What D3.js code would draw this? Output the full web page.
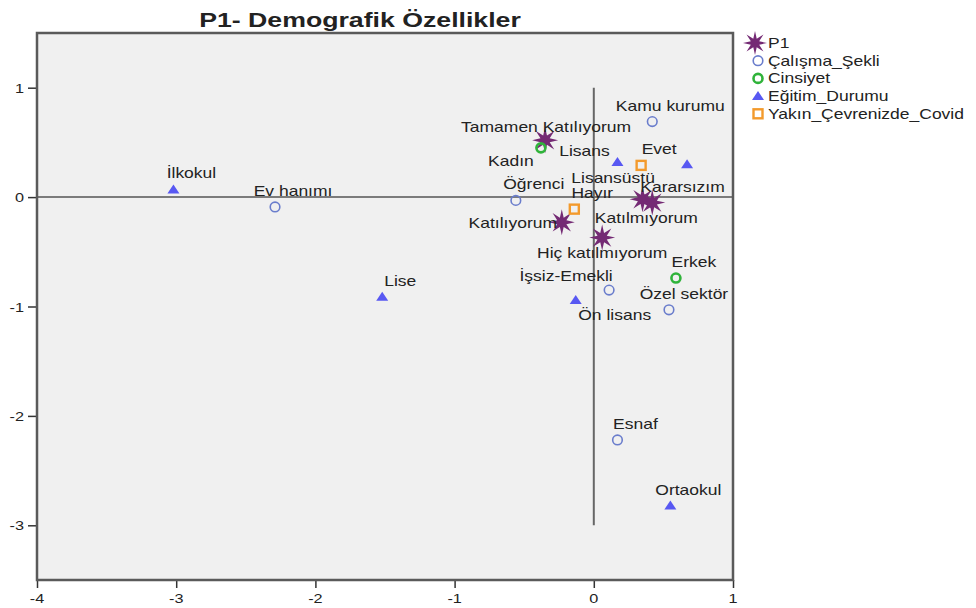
<!DOCTYPE html>
<html>
<head>
<meta charset="utf-8">
<script src="https://cdn.jsdelivr.net/npm/d3@7"></script>
<style>
  body { margin: 0; background: #fff; }
  text { font-family: "Liberation Sans", Arial, sans-serif; }
</style>
</head>
<body>
<div id="chart"></div>
<script>
// category points (dimension 1, dimension 2)
let p1_points = [
    { name: "Tamamen Katılıyorum", x: -0.35, y: 0.52 },
    { name: "Kararsızım", x: 0.35, y: -0.02 },
    { name: "Katılmıyorum", x: 0.42, y: -0.05 },
    { name: "Katılıyorum", x: -0.23, y: -0.23 },
    { name: "Hiç katılmıyorum", x: 0.06, y: -0.37 }
];
let calisma_points = [
    { name: "Kamu kurumu", x: 0.42, y: 0.69 },
    { name: "Öğrenci", x: -0.56, y: -0.03 },
    { name: "Ev hanımı", x: -2.29, y: -0.09 },
    { name: "İşsiz-Emekli", x: 0.11, y: -0.85 },
    { name: "Özel sektör", x: 0.54, y: -1.03 },
    { name: "Esnaf", x: 0.17, y: -2.22 }
];
let cinsiyet_points = [
    { name: "Kadın", x: -0.38, y: 0.45 },
    { name: "Erkek", x: 0.59, y: -0.74 }
];
let egitim_points = [
    { name: "İlkokul", x: -3.02, y: 0.07 },
    { name: "Lisans", x: 0.17, y: 0.32 },
    { name: "Lisansüstü", x: 0.67, y: 0.30 },
    { name: "Lise", x: -1.52, y: -0.91 },
    { name: "Ön lisans", x: -0.13, y: -0.94 },
    { name: "Ortaokul", x: 0.55, y: -2.82 }
];
let covid_points = [
    { name: "Evet", x: 0.34, y: 0.29 },
    { name: "Hayır", x: -0.14, y: -0.11 }
];

let x_ticks = [-4, -3, -2, -1, 0, 1];
let y_ticks = [1, 0, -1, -2, -3];

// label placement (pixels relative to the point), default is up-right
let label_offsets = {
    "Tamamen Katılıyorum": [1, -8],
    "Kararsızım": [40, -7],
    "Katılmıyorum": [-6, 20],
    "Katılıyorum": [-49, 6],
    "Hiç katılmıyorum": [0, 20],
    "Kadın": [-30, 18],
    "Lisans": [-33, -6],
    "Lisansüstü": [-74, 19],
    "İşsiz-Emekli": [-43, -9],
    "Ön lisans": [39, 20],
    "Özel sektör": [15, -11]
};

let series = [
    { name: "P1", data: p1_points, shape: "star", color: "#742a74" },
    { name: "Çalışma_Şekli", data: calisma_points, shape: "circle", color: "#6a7dcc" },
    { name: "Cinsiyet", data: cinsiyet_points, shape: "circle2", color: "#2fb33a" },
    { name: "Eğitim_Durumu", data: egitim_points, shape: "triangle", color: "#5858f2" },
    { name: "Yakın_Çevrenizde_Covid", data: covid_points, shape: "square", color: "#f39a2c" }
];

// the original text is drawn horizontally stretched
let stretch = 1.25;

let margin = { top: 33, right: 243, bottom: 28, left: 37 },
    width = 976 - margin.left - margin.right,
    height = 608 - margin.top - margin.bottom;

let svg = d3.select("#chart")
    .append("svg")
    .attr("width", 976)
    .attr("height", 608);

let g = svg.append("g")
    .attr("transform", "translate(" + margin.left + "," + margin.top + ")");

let x = d3.scaleLinear().domain([-4, 1]).range([0, width]);
let y = d3.scaleLinear().domain([-3.5, 1.5]).range([height, 0]);

function wideText(parent, px, py, anchor, size, s) {
    return parent.append("text")
        .attr("transform", "translate(" + px + "," + py + ") scale(" + (s || stretch) + ",1)")
        .attr("text-anchor", anchor)
        .style("font-size", size + "px")
        .attr("fill", "#222");
}

// title
wideText(svg, 360, 27, "middle", 21, 1.27)
    .style("font-weight", "bold")
    .text("P1- Demografik Özellikler");

// plot background
g.append("rect")
    .attr("width", width)
    .attr("height", height)
    .attr("fill", "#f0f0f0");

// reference lines
g.append("line")
    .attr("x1", x(-4)).attr("x2", x(1))
    .attr("y1", y(0)).attr("y2", y(0))
    .attr("stroke", "#555").attr("stroke-width", 1.5);
g.append("line")
    .attr("x1", x(0)).attr("x2", x(0))
    .attr("y1", y(1)).attr("y2", y(-3))
    .attr("stroke", "#666").attr("stroke-width", 2);

// axes
let xAxis = g.append("g")
    .attr("transform", "translate(0," + height + ")")
    .call(d3.axisBottom(x).tickValues(x_ticks).tickSize(8).tickFormat(""));
let yAxis = g.append("g")
    .call(d3.axisLeft(y).tickValues(y_ticks).tickSize(9).tickFormat(""));

[xAxis, yAxis].forEach(function (a) {
    a.select(".domain").remove();
    a.selectAll("line").attr("stroke", "#333").attr("stroke-width", 1.5);
});

x_ticks.forEach(function (t) {
    wideText(g, x(t), height + 23, "middle", 13).text(String(t));
});
y_ticks.forEach(function (t) {
    wideText(g, -13, y(t) + 5, "end", 13).text(String(t));
});

// frame
g.append("rect")
    .attr("width", width)
    .attr("height", height)
    .attr("fill", "none")
    .attr("stroke", "#5a5a5a")
    .attr("stroke-width", 2.5);

function starPath(outer, inner, n) {
    let pts = [];
    for (let i = 0; i < n * 2; i++) {
        let r = i % 2 == 0 ? outer : inner;
        let a = Math.PI * i / n;
        pts.push([r * Math.cos(a), r * Math.sin(a)]);
    }
    return "M" + pts.map(function (p) { return p.join(","); }).join("L") + "Z";
}

function drawMarker(sel, shape, color) {
    if (shape == "star") {
        sel.append("path").attr("d", starPath(13, 5, 8)).attr("fill", color);
    } else if (shape == "circle") {
        sel.append("circle").attr("r", 4.8).attr("fill", "none")
            .attr("stroke", color).attr("stroke-width", 1.6);
    } else if (shape == "circle2") {
        sel.append("circle").attr("r", 4.5).attr("fill", "none")
            .attr("stroke", color).attr("stroke-width", 2.6);
    } else if (shape == "triangle") {
        sel.append("path").attr("d", "M0,-5L6,4L-6,4Z").attr("fill", color);
    } else if (shape == "square") {
        sel.append("rect").attr("x", -4.5).attr("y", -4.5).attr("width", 9).attr("height", 9)
            .attr("fill", "none").attr("stroke", color).attr("stroke-width", 2.4);
    }
}

// points
series.forEach(function (s) {
    s.data.forEach(function (d) {
        let m = g.append("g")
            .attr("transform", "translate(" + x(d.x) + "," + y(d.y) + ")");
        drawMarker(m, s.shape, s.color);
    });
});

// labels
series.forEach(function (s) {
    s.data.forEach(function (d) {
        let off = label_offsets[d.name] || [18, -11];
        wideText(g, x(d.x) + off[0], y(d.y) + off[1], "middle", 14).text(d.name);
    });
});

// legend
let legend = svg.append("g").attr("transform", "translate(755,43)");
series.forEach(function (s, i) {
    let row = legend.append("g").attr("transform", "translate(0," + (i * 17.7) + ")");
    let m = row.append("g").attr("transform", "translate(" + (i == 0 ? 0 : 3) + ",0)");
    if (i == 0) {
        m.append("path").attr("d", starPath(12, 4.5, 8)).attr("fill", s.color);
    } else {
        drawMarker(m, s.shape, s.color);
    }
    wideText(row, 13, 5, "start", 14, 1.25).text(s.name);
});
</script>
</body>
</html>
